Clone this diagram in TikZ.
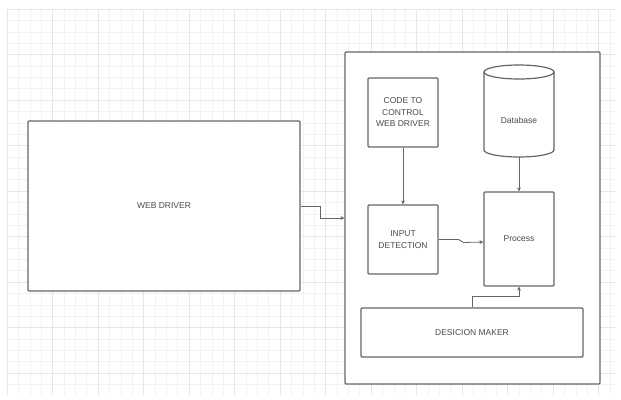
\documentclass[tikz,border=0pt]{standalone}
\usepackage{fontspec}
\setmainfont{Liberation Sans}
\usetikzlibrary{arrows.meta,calc}
\definecolor{gridminor}{HTML}{F2F2F2}
\definecolor{gridmajor}{HTML}{E6E6E6}
\definecolor{edge}{HTML}{666666}
\definecolor{txt}{HTML}{4A4A4A}
\tikzset{
  box/.style={draw=edge, line width=1.2pt, fill=white, rounded corners=1pt, align=center,
    font=\fontsize{8.5}{11.5}\selectfont, text=txt, inner sep=0pt},
  arr/.style={draw=edge, line width=0.8pt, -{Stealth[length=4pt,width=4pt]}},
}
\begin{document}
\begin{tikzpicture}[x=1pt,y=-1pt]
\useasboundingbox (0,0) rectangle (621,399);
\fill[white] (0,0) rectangle (621,399);
% grid
\foreach \i in {0,...,53} {
  \draw[gridminor, line width=0.5pt] ({7+\i*11.375},9) -- ({7+\i*11.375},395);
}
\foreach \j in {0,...,33} {
  \draw[gridminor, line width=0.5pt] (7,{9+\j*11.375}) -- (615,{9+\j*11.375});
}
\foreach \i in {0,...,13} {
  \draw[gridmajor, line width=0.7pt] ({7+\i*45.5},9) -- ({7+\i*45.5},395);
}
\foreach \j in {0,...,8} {
  \draw[gridmajor, line width=0.7pt] (7,{9+\j*45.5}) -- (615,{9+\j*45.5});
}
% nodes
\node[box, minimum width=272pt, minimum height=170pt] (wd) at (164,206) {WEB DRIVER};
\node[box, minimum width=255pt, minimum height=332pt] (outer) at (472.5,218) {};
\node[box, minimum width=70pt, minimum height=69pt] (code) at (403,112.5) {CODE TO\\CONTROL\\WEB DRIVER};
\node[box, minimum width=70pt, minimum height=69pt] (inp) at (403,239.5) {INPUT\\DETECTION};
\node[box, minimum width=70pt, minimum height=94pt] (proc) at (519,239) {Process};
\node[box, minimum width=222pt, minimum height=49pt] (dm) at (472,332.5) {DESICION MAKER};
% database cylinder
\node[inner sep=0pt, minimum width=70pt, minimum height=92pt] (db) at (519,111) {};
\draw[draw=edge, line width=1.2pt, fill=white]
  (484,72) -- (484,150) arc[start angle=180, end angle=360, x radius=35, y radius=-7]
  -- (554,72) arc[start angle=0, end angle=180, x radius=35, y radius=-7] -- cycle;
\draw[draw=edge, line width=1.2pt] (484,72) arc[start angle=180, end angle=360, x radius=35, y radius=-7];
\node[font=\fontsize{8.5}{11.5}\selectfont, text=txt] at (519,120) {Database};
% connectors
\draw[arr] (wd.east) -- ++(20,0) |- (outer.west);
\draw[arr] (code.south) -- (inp.north);
\draw[arr] (db.south) -- (proc.north);
\draw[arr] (inp.east) -- ++(20,0) -- ++(5,3) -- ([yshift=-3pt]proc.west);
\draw[arr] (dm.north) -- ++(0,-11) -| (proc.south);
\end{tikzpicture}
\end{document}
